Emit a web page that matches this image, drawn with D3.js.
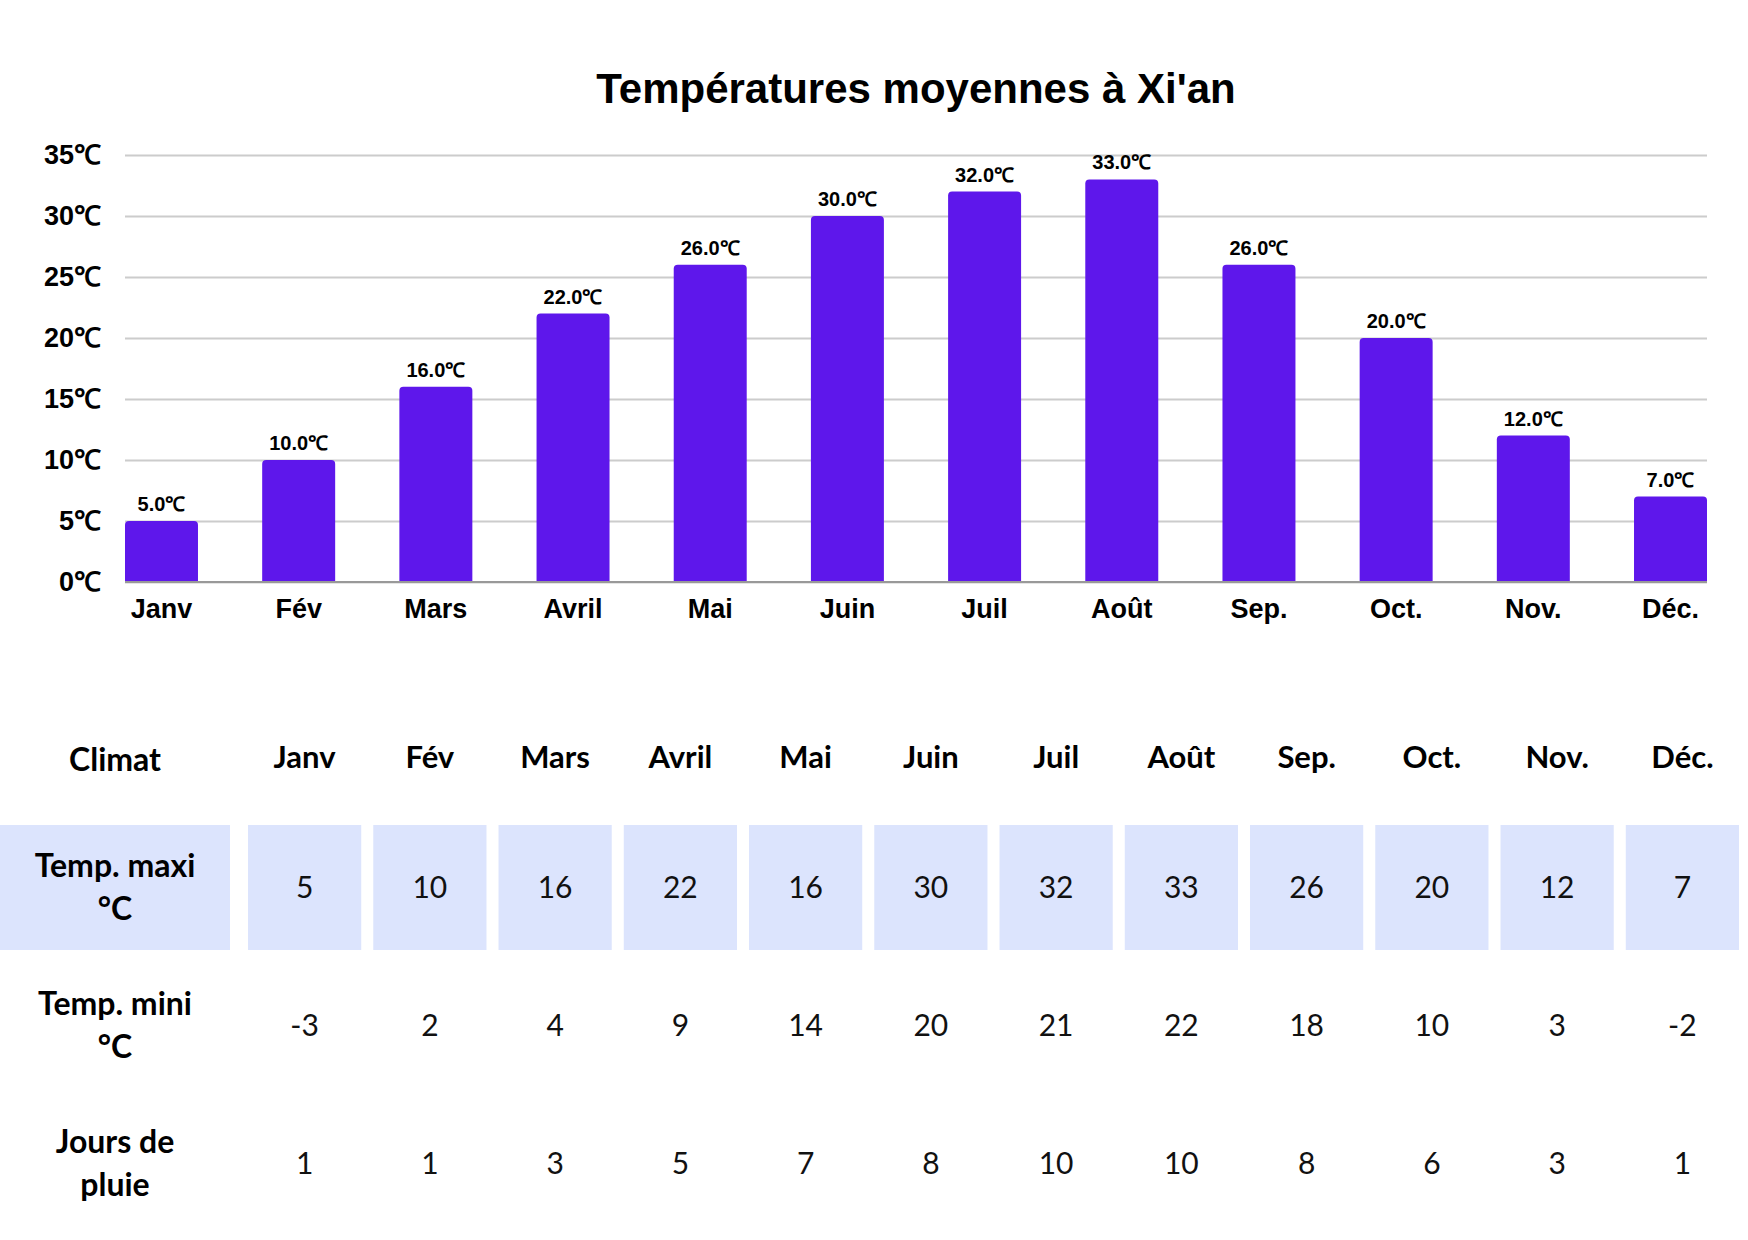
<!DOCTYPE html>
<html>
<head>
<meta charset="utf-8">
<script src="https://cdn.jsdelivr.net/npm/d3@7"></script>
<style>
  body { margin: 0; background: #ffffff; }
  svg { display: block; }
</style>
</head>
<body>
<svg id="chartSvg" width="1748" height="1240"></svg>
<script>
var months = ["Janv", "Fév", "Mars", "Avril", "Mai", "Juin", "Juil", "Août", "Sep.", "Oct.", "Nov.", "Déc."];
var avgTemps = [5, 10, 16, 22, 26, 30, 32, 33, 26, 20, 12, 7];
var yTicks = [0, 5, 10, 15, 20, 25, 30, 35];

var tempMax = [5, 10, 16, 22, 16, 30, 32, 33, 26, 20, 12, 7];
var tempMin = [-3, 2, 4, 9, 14, 20, 21, 22, 18, 10, 3, -2];
var rainDays = [1, 1, 3, 5, 7, 8, 10, 10, 8, 6, 3, 1];
var rowLabels = [["Temp. maxi", "°C"], ["Temp. mini", "°C"], ["Jours de", "pluie"]];
var tableHeader = "Climat";
var title = "Températures moyennes à Xi'an";

var svg = d3.select("#chartSvg");
var chartFont = "'Liberation Sans', Arial, sans-serif";
var tableFont = "Lato, 'Open Sans', sans-serif";

// bar chart
var plotLeft = 125, plotRight = 1707, plotTop = 155, plotBottom = 582;
var x = d3.scaleBand()
    .domain(months)
    .range([plotLeft, plotRight])
    .paddingInner(0.468)
    .paddingOuter(0);
var y = d3.scaleLinear()
    .domain([0, 35])
    .range([plotBottom, plotTop]);

svg.append("text")
    .attr("x", 916)
    .attr("y", 103)
    .attr("text-anchor", "middle")
    .attr("font-family", chartFont)
    .attr("font-weight", "bold")
    .attr("font-size", 42)
    .attr("fill", "#000")
    .text(title);

var yAxis = svg.append("g")
    .attr("transform", `translate(${plotLeft}, 0)`)
    .call(d3.axisLeft(y)
        .tickValues(yTicks)
        .tickSize(-(plotRight - plotLeft))
        .tickPadding(24)
        .tickFormat(d => d + "℃"));
yAxis.select(".domain").remove();
yAxis.selectAll(".tick line")
    .attr("stroke", "#cccccc")
    .attr("stroke-width", 2);
yAxis.selectAll(".tick text")
    .attr("font-family", chartFont)
    .attr("font-weight", "bold")
    .attr("font-size", 27)
    .attr("fill", "#000");

function topRounded(x0, y0, w, h, r) {
    r = Math.min(r, h);
    return `M${x0},${y0 + h}V${y0 + r}Q${x0},${y0} ${x0 + r},${y0}H${x0 + w - r}Q${x0 + w},${y0} ${x0 + w},${y0 + r}V${y0 + h}Z`;
}

var bars = svg.append("g")
    .selectAll("g")
    .data(avgTemps)
    .join("g");

bars.append("path")
    .attr("d", (d, i) => topRounded(x(months[i]), y(d), x.bandwidth(), y(0) - y(d), 4))
    .attr("fill", "#5e17eb");

bars.append("text")
    .attr("x", (d, i) => x(months[i]) + x.bandwidth() / 2)
    .attr("y", d => y(d) - 10)
    .attr("text-anchor", "middle")
    .attr("font-family", chartFont)
    .attr("font-weight", "bold")
    .attr("font-size", 20)
    .attr("fill", "#000")
    .text(d => d.toFixed(1) + "℃");

svg.append("line")
    .attr("x1", plotLeft)
    .attr("x2", plotRight)
    .attr("y1", y(0))
    .attr("y2", y(0))
    .attr("stroke", "#999999")
    .attr("stroke-width", 2);

var xAxis = svg.append("g")
    .attr("transform", `translate(0, ${plotBottom})`)
    .call(d3.axisBottom(x).tickSize(0));
xAxis.select(".domain").remove();
xAxis.selectAll(".tick text")
    .attr("y", 36)
    .attr("dy", 0)
    .attr("font-family", chartFont)
    .attr("font-weight", "bold")
    .attr("font-size", 27)
    .attr("fill", "#000");

// climate table
var rows = [tempMax, tempMin, rainDays];
var col = d3.scaleBand()
    .domain(months)
    .range([248, 1739])
    .paddingInner(12 / 125)
    .paddingOuter(0);
var row = d3.scaleBand()
    .domain(d3.range(rows.length))
    .range([825, 1226])
    .paddingInner(13 / 138)
    .paddingOuter(0);
var labelW = 230;

var table = svg.append("g");

table.append("text")
    .attr("x", labelW / 2)
    .attr("y", 771)
    .attr("text-anchor", "middle")
    .attr("font-family", tableFont)
    .attr("font-weight", "bold")
    .attr("font-size", 32)
    .attr("fill", "#000")
    .text(tableHeader);

table.selectAll("text.head")
    .data(months)
    .join("text")
    .attr("class", "head")
    .attr("x", d => col(d) + col.bandwidth() / 2)
    .attr("y", 768)
    .attr("text-anchor", "middle")
    .attr("font-family", tableFont)
    .attr("font-weight", "bold")
    .attr("font-size", 31)
    .attr("fill", "#000")
    .text(d => d);

// first row is shaded
table.append("rect")
    .attr("x", 0)
    .attr("y", row(0))
    .attr("width", labelW)
    .attr("height", row.bandwidth())
    .attr("fill", "#dce4fd");
table.selectAll("rect.cell")
    .data(months)
    .join("rect")
    .attr("class", "cell")
    .attr("x", d => col(d))
    .attr("y", row(0))
    .attr("width", col.bandwidth())
    .attr("height", row.bandwidth())
    .attr("fill", "#dce4fd");

var rowGs = table.selectAll("g.row")
    .data(rows)
    .join("g")
    .attr("class", "row")
    .attr("transform", (d, i) => `translate(0, ${row(i) + row.bandwidth() / 2})`);

rowGs.append("text")
    .attr("x", labelW / 2)
    .attr("text-anchor", "middle")
    .attr("font-family", tableFont)
    .attr("font-weight", "bold")
    .attr("font-size", 32)
    .attr("fill", "#000")
    .selectAll("tspan")
    .data((d, i) => rowLabels[i])
    .join("tspan")
    .attr("x", labelW / 2)
    .attr("y", (d, j) => j === 0 ? -11 : 32)
    .text(d => d);

rowGs.selectAll("text.val")
    .data(d => d)
    .join("text")
    .attr("class", "val")
    .attr("x", (d, i) => col(months[i]) + col.bandwidth() / 2)
    .attr("y", 10)
    .attr("text-anchor", "middle")
    .attr("font-family", tableFont)
    .attr("font-size", 30)
    .attr("fill", "#111")
    .text(d => d);
</script>
</body>
</html>
